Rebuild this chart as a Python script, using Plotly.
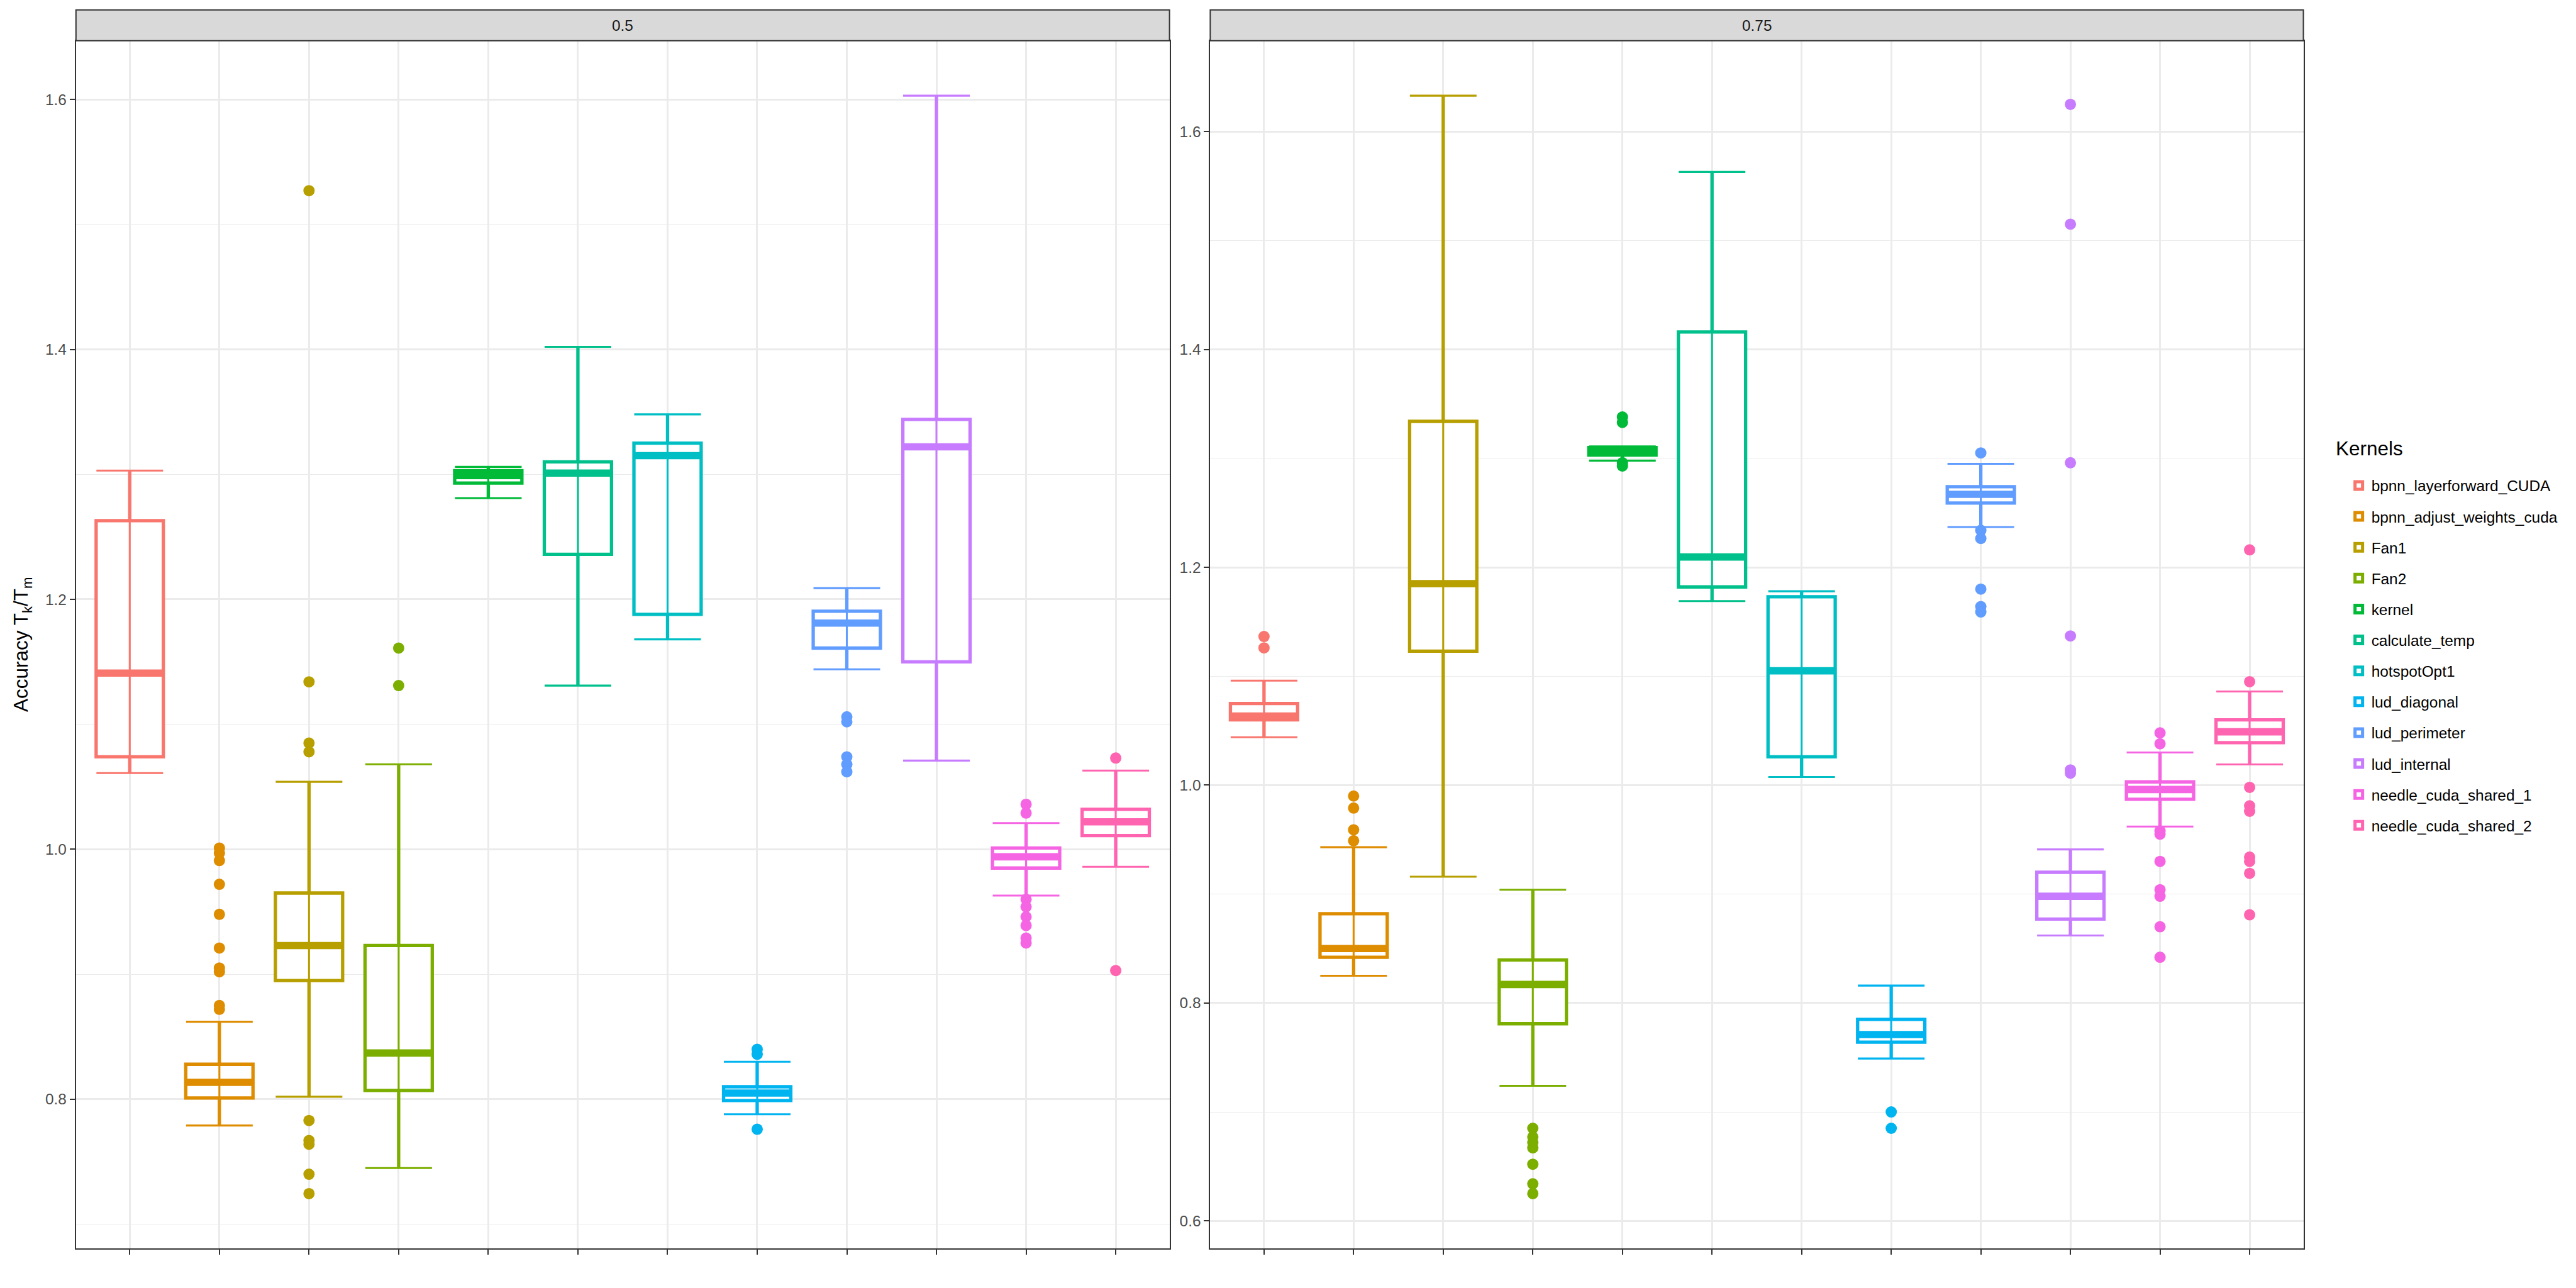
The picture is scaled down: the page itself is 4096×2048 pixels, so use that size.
import plotly.graph_objects as go

# ---------------- data ----------------
kernels = ["bpnn_layerforward_CUDA", "bpnn_adjust_weights_cuda", "Fan1", "Fan2", "kernel",
           "calculate_temp", "hotspotOpt1", "lud_diagonal", "lud_perimeter", "lud_internal",
           "needle_cuda_shared_1", "needle_cuda_shared_2"]
colors = ["#F8766D", "#DE8C00", "#B79F00", "#7CAE00", "#00BA38", "#00C08B",
          "#00BFC4", "#00B4F0", "#619CFF", "#C77CFF", "#F564E3", "#FF64B0"]
facets = ["0.5", "0.75"]
legend_title = "Kernels"
y_title = "Accuracy T<sub>k</sub>/T<sub>m</sub>"

# facet 0.5
lower_05 = [1.061, 0.779, 0.802, 0.745, 1.281, 1.131, 1.168, 0.788, 1.144, 1.071, 0.963, 0.986]
q1_05 = [1.074, 0.801, 0.895, 0.807, 1.293, 1.236, 1.188, 0.799, 1.161, 1.150, 0.985, 1.011]
median_05 = [1.141, 0.8135, 0.923, 0.837, 1.299, 1.301, 1.315, 0.805, 1.181, 1.322, 0.994, 1.022]
q3_05 = [1.263, 0.828, 0.965, 0.923, 1.303, 1.310, 1.325, 0.810, 1.1905, 1.344, 1.001, 1.032]
upper_05 = [1.303, 0.862, 1.054, 1.068, 1.306, 1.402, 1.348, 0.830, 1.209, 1.603, 1.021, 1.063]
outliers_05 = [
    [],
    [1.001, 0.997, 0.991, 0.972, 0.948, 0.921, 0.905, 0.902, 0.875, 0.872],
    [1.527, 1.134, 1.085, 1.078, 0.783, 0.767, 0.764, 0.740, 0.7245],
    [1.161, 1.131],
    [],
    [],
    [],
    [0.840, 0.836, 0.776],
    [1.106, 1.102, 1.074, 1.068, 1.062],
    [],
    [1.036, 1.029, 0.960, 0.954, 0.946, 0.939, 0.929, 0.925],
    [1.073, 0.903],
]

# facet 0.75
lower_075 = [1.044, 0.825, 0.916, 0.724, 1.298, 1.169, 1.0075, 0.749, 1.237, 0.862, 0.962, 1.019]
q1_075 = [1.060, 0.842, 1.123, 0.781, 1.303, 1.182, 1.026, 0.764, 1.259, 0.877, 0.987, 1.039]
median_075 = [1.0635, 0.850, 1.185, 0.817, 1.3066, 1.2095, 1.105, 0.771, 1.267, 0.898, 0.996, 1.049]
q3_075 = [1.075, 0.882, 1.334, 0.8395, 1.310, 1.416, 1.173, 0.785, 1.274, 0.920, 1.003, 1.060]
upper_075 = [1.096, 0.943, 1.633, 0.904, 1.311, 1.563, 1.178, 0.816, 1.295, 0.941, 1.030, 1.086]
outliers_075 = [
    [1.1365, 1.126],
    [0.990, 0.979, 0.959, 0.949],
    [],
    [0.685, 0.677, 0.672, 0.667, 0.652, 0.634, 0.625],
    [1.338, 1.333, 1.296, 1.293],
    [],
    [],
    [0.700, 0.685],
    [1.305, 1.234, 1.2265, 1.180, 1.164, 1.159],
    [1.625, 1.515, 1.296, 1.137, 1.014, 1.011],
    [1.048, 1.038, 0.958, 0.955, 0.930, 0.904, 0.898, 0.870, 0.842],
    [1.216, 1.095, 0.998, 0.981, 0.976, 0.934, 0.930, 0.919, 0.881],
]

panels = [
    dict(lower=lower_05, q1=q1_05, median=median_05, q3=q3_05, upper=upper_05, out=outliers_05),
    dict(lower=lower_075, q1=q1_075, median=median_075, q3=q3_075, upper=upper_075, out=outliers_075),
]

# ---------------- styling constants ----------------
FONT = "Liberation Sans"
BOX_W = 0.75
BOX_LW = 5.3
ERR_LW = 3.1
MED_LW = 11.6
CAP_HALF_PX = 53
PT_SIZE = 18
GRID = "#EBEBEB"
DARK = "#333333"
SMALL = 24.4
BIG = 31.5

x_domains = [[0.02949, 0.45400], [0.46982, 0.89417]]
y_domain = [0.03066, 0.96834]
strip_top = 0.99233

positions = list(range(1, len(kernels) + 1))

fig = go.Figure()

for p, pdata in enumerate(panels):
    xa = "x" if p == 0 else "x2"
    ya = "y" if p == 0 else "y2"
    for i, name in enumerate(kernels):
        c = colors[i]
        pos = positions[i]
        fig.add_trace(go.Box(
            x=[pos], q1=[pdata["q1"][i]], median=[pdata["median"][i]], q3=[pdata["q3"][i]],
            lowerfence=[pdata["lower"][i]], upperfence=[pdata["upper"][i]],
            width=BOX_W, whiskerwidth=0, fillcolor="white",
            line=dict(color=c, width=BOX_LW), boxpoints=False,
            name=name, legendgroup=name, showlegend=(p == 0),
            xaxis=xa, yaxis=ya, hoverinfo="skip",
        ))
        # errorbar (whisker through the box) + fat median
        med = pdata["median"][i]
        fig.add_trace(go.Scatter(
            x=[pos], y=[med], mode="markers",
            marker=dict(size=1, color="rgba(0,0,0,0)"),
            error_y=dict(type="data", symmetric=False,
                         array=[pdata["upper"][i] - med], arrayminus=[med - pdata["lower"][i]],
                         width=CAP_HALF_PX, thickness=ERR_LW, color=c),
            error_x=dict(type="data", array=[BOX_W / 2], width=0, thickness=MED_LW, color=c),
            legendgroup=name, showlegend=False, xaxis=xa, yaxis=ya, hoverinfo="skip",
        ))
        outs = pdata["out"][i]
        if outs:
            fig.add_trace(go.Scatter(
                x=[pos] * len(outs), y=outs, mode="markers",
                marker=dict(size=PT_SIZE, color=c, line=dict(width=0)),
                legendgroup=name, showlegend=False, xaxis=xa, yaxis=ya, hoverinfo="skip",
            ))


def yrange(pdata):
    vals = list(pdata["lower"]) + list(pdata["upper"])
    for o in pdata["out"]:
        vals += o
    lo, hi = min(vals), max(vals)
    pad = 0.05 * (hi - lo)
    return [lo - pad, hi + pad]


xr = [positions[0] - 0.6, positions[-1] + 0.6]

common_x = dict(range=xr, tickvals=positions, showticklabels=False, ticks="outside",
                ticklen=8, tickwidth=2, tickcolor=DARK, showgrid=True, gridcolor=GRID,
                gridwidth=2.7, zeroline=False, showline=True, linecolor=DARK, linewidth=2,
                mirror=True, fixedrange=True)
common_y = dict(dtick=0.2, tick0=0, tickformat=".1f", ticks="outside", ticklen=8, tickwidth=2,
                tickcolor=DARK, tickfont=dict(size=SMALL, color="#4D4D4D", family=FONT),
                showgrid=True, gridcolor=GRID, gridwidth=2.7, zeroline=False,
                showline=True, linecolor=DARK, linewidth=2, mirror=True,
                minor=dict(dtick=0.1, tick0=0, showgrid=True, gridcolor=GRID, gridwidth=1.4),
                fixedrange=True)

fig.update_layout(
    width=4096, height=2048,
    margin=dict(l=0, r=0, t=0, b=0),
    paper_bgcolor="white", plot_bgcolor="white",
    font=dict(family=FONT, color="black"),
    boxmode="overlay",
    xaxis=dict(domain=x_domains[0], anchor="y", **common_x),
    xaxis2=dict(domain=x_domains[1], anchor="y2", **common_x),
    yaxis=dict(domain=y_domain, anchor="x", range=yrange(panels[0]), **common_y),
    yaxis2=dict(domain=y_domain, anchor="x2", range=yrange(panels[1]), **common_y),
    legend=dict(
        font=dict(size=SMALL, color="black", family=FONT),
        x=0.9108, y=0.634, xanchor="left", yanchor="top",
        tracegroupgap=14.4, bgcolor="rgba(0,0,0,0)", itemsizing="trace",
    ),
    showlegend=True,
)

# facet strips
shapes = []
annotations = []
for p, lab in enumerate(facets):
    xref = "x domain" if p == 0 else "x2 domain"
    shapes.append(dict(type="rect", xref=xref, yref="paper", x0=0, x1=1,
                       y0=y_domain[1], y1=strip_top, fillcolor="#D9D9D9",
                       line=dict(color=DARK, width=2), layer="above"))
    annotations.append(dict(text=lab, xref=xref, yref="paper", x=0.5,
                            y=(y_domain[1] + strip_top) / 2, xanchor="center", yanchor="middle",
                            showarrow=False, font=dict(size=SMALL, color="#1A1A1A", family=FONT)))

annotations.append(dict(text=y_title, xref="paper", yref="paper",
                        x=35 / 4096, y=(y_domain[0] + y_domain[1]) / 2, textangle=-90,
                        xanchor="center", yanchor="middle", showarrow=False,
                        font=dict(size=BIG, color="black", family=FONT)))
annotations.append(dict(text=legend_title, xref="paper", yref="paper",
                        x=3712 / 4096, y=1 - 713.4 / 2048, xanchor="left", yanchor="middle",
                        showarrow=False, font=dict(size=BIG, color="black", family=FONT)))

fig.update_layout(shapes=shapes, annotations=annotations)

fig.write_html("out.html")
